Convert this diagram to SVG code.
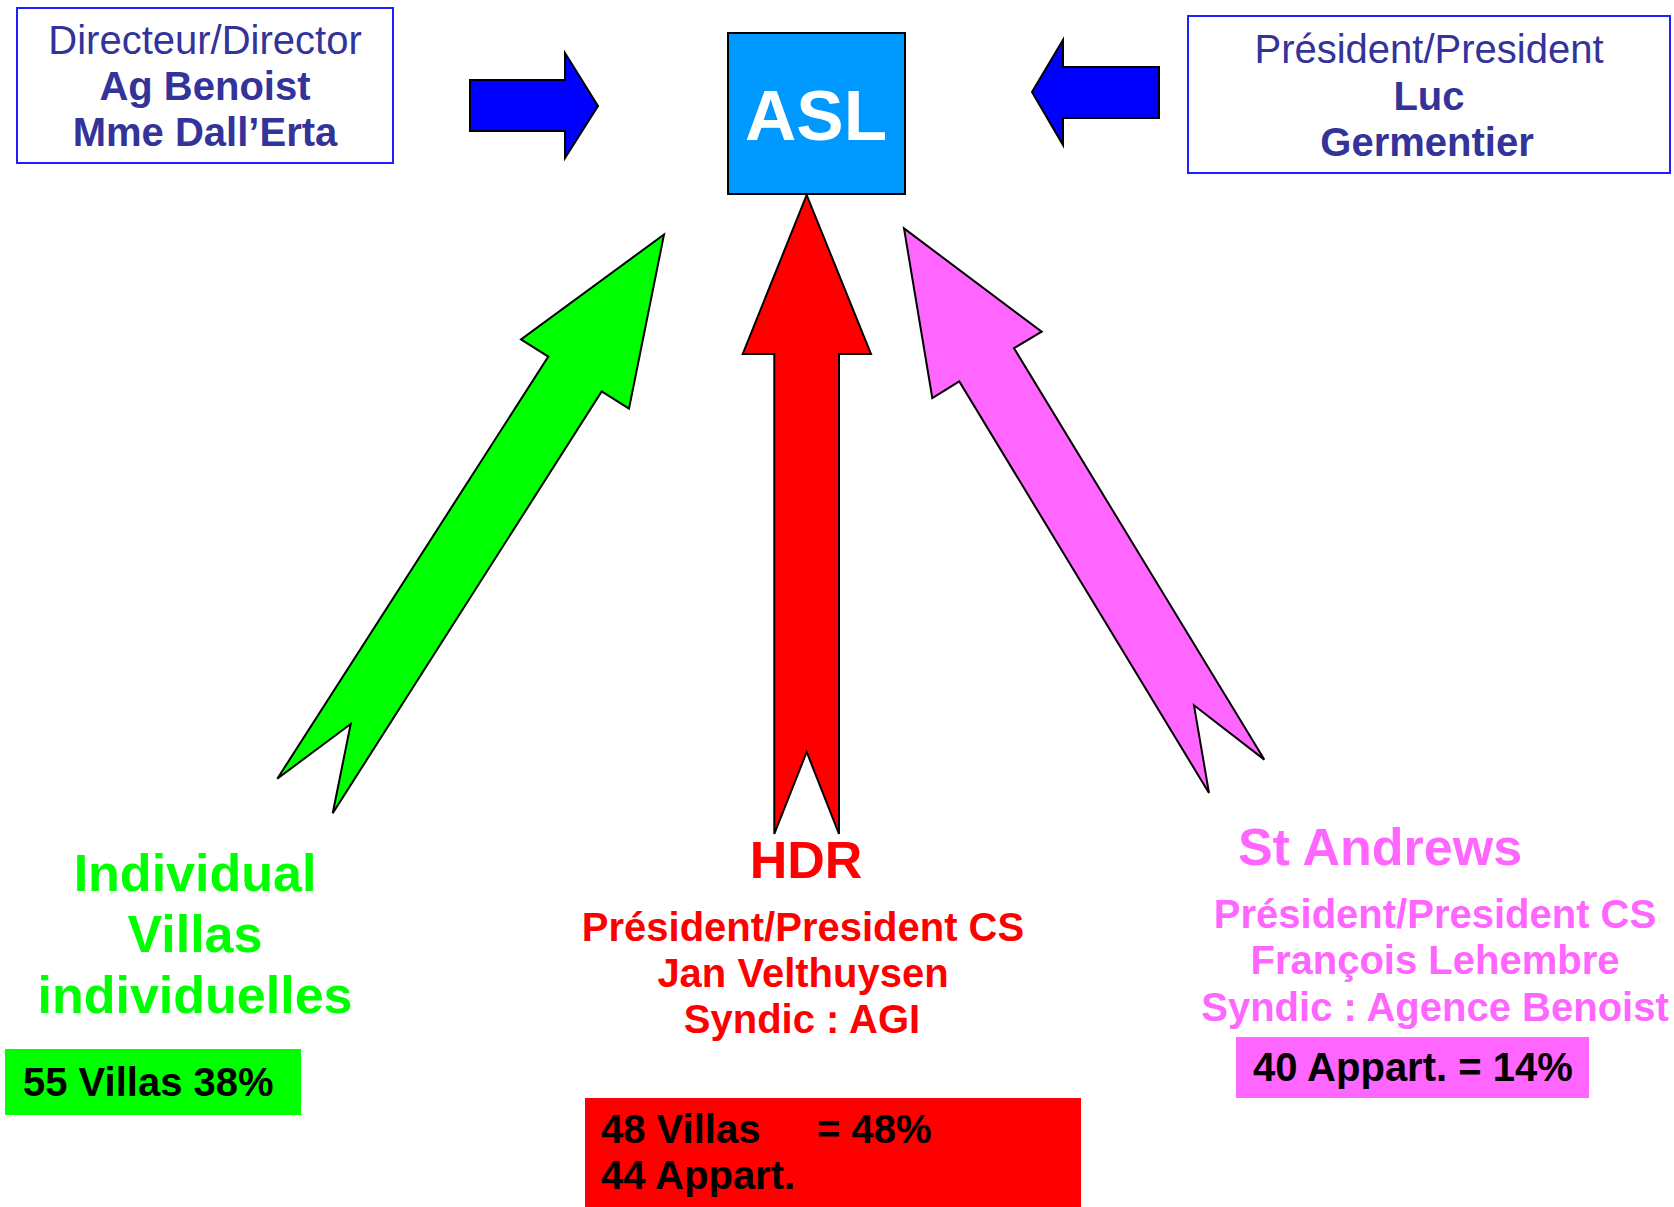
<svg xmlns="http://www.w3.org/2000/svg" width="1674" height="1207" viewBox="0 0 1674 1207">
<style>
  text { font-family: "Liberation Sans", Arial, sans-serif; }
  .box { fill: #ffffff; stroke: #1f1fff; stroke-width: 2; }
  .navy { fill: #333399; font-size: 40px; text-anchor: middle; }
  .b { font-weight: bold; }
  .arrow { stroke: #000000; stroke-width: 2; stroke-linejoin: miter; }
  .big { font-size: 52px; font-weight: bold; text-anchor: middle; }
  .info { font-size: 40px; font-weight: bold; text-anchor: middle; }
  .stat { font-size: 40px; font-weight: bold; fill: #000000; }
</style>
<rect width="1674" height="1207" fill="#ffffff"/>

<g id="director">
  <rect class="box" x="17" y="8" width="376" height="155"/>
  <text class="navy" x="205" y="54">Directeur/Director</text>
  <text class="navy b" x="205" y="100">Ag Benoist</text>
  <text class="navy b" x="205" y="146">Mme Dall’Erta</text>
</g>

<g id="asl">
  <rect x="728" y="33" width="177" height="161" fill="#0099ff" stroke="#000000" stroke-width="2"/>
  <text x="816" y="140" fill="#ffffff" font-size="71" font-weight="bold" text-anchor="middle">ASL</text>
</g>

<g id="president">
  <rect class="box" x="1188" y="16" width="482" height="157"/>
  <text class="navy" x="1429" y="63">Président/President</text>
  <text class="navy b" x="1429" y="110">Luc</text>
  <text class="navy b" x="1427" y="156">Germentier</text>
</g>

<g id="connectors">
  <polygon class="arrow" fill="#0000ff" points="470,80 565,80 565,53 598,106 565,158 565,131 470,131"/>
  <polygon class="arrow" fill="#0000ff" points="1159,67 1063,67 1063,40 1032,92 1063,145 1063,118 1159,118"/>
  <polygon class="arrow" fill="#00ff00" points="664,234.5 629,408.7 601.7,391.5 332.7,813.2 350.7,724 277.3,778.7 548.3,356.6 521,339.4"/>
  <polygon class="arrow" fill="#ff0000" points="806.7,195 871,354 839,354 839,834 806.7,752 774.3,834 774.3,354 742.7,354"/>
  <polygon class="arrow" fill="#ff66ff" points="904,228.4 1041.7,331.7 1014,348.2 1264.3,759.6 1194,705.3 1209,793 959.3,381.5 932.3,398"/>
</g>

<g id="individual">
  <text class="big" x="195" y="891" fill="#00ff00">Individual</text>
  <text class="big" x="195" y="952" fill="#00ff00">Villas</text>
  <text class="big" x="195" y="1013" fill="#00ff00">individuelles</text>
  <rect x="5" y="1049" width="296" height="66" fill="#00ff00"/>
  <text class="stat" x="23" y="1096">55 Villas 38%</text>
</g>

<g id="hdr">
  <text class="big" x="806" y="878" fill="#ff0000">HDR</text>
  <text class="info" x="803" y="941" fill="#ff0000">Président/President CS</text>
  <text class="info" x="803" y="987" fill="#ff0000">Jan Velthuysen</text>
  <text class="info" x="802" y="1033" fill="#ff0000">Syndic : AGI</text>
  <rect x="585" y="1098" width="496" height="109" fill="#ff0000"/>
  <text class="stat" x="601" y="1143">48 Villas</text>
  <text class="stat" x="817" y="1143">= 48%</text>
  <text class="stat" x="601" y="1189">44 Appart.</text>
</g>

<g id="standrews">
  <text class="big" x="1380" y="865" fill="#ff66ff">St Andrews</text>
  <text class="info" x="1435" y="928" fill="#ff66ff">Président/President CS</text>
  <text class="info" x="1435" y="974" fill="#ff66ff">François Lehembre</text>
  <text class="info" x="1435" y="1021" fill="#ff66ff">Syndic : Agence Benoist</text>
  <rect x="1236" y="1037" width="353" height="61" fill="#ff66ff"/>
  <text class="stat" x="1253" y="1081">40 Appart. = 14%</text>
</g>
</svg>
